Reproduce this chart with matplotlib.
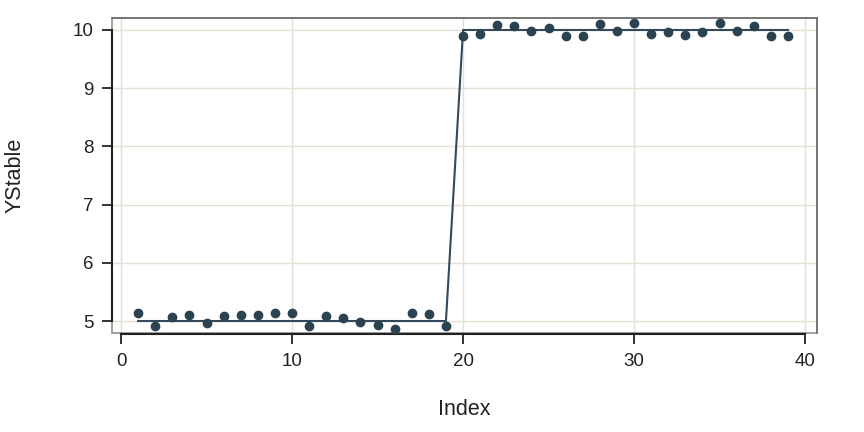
import matplotlib
matplotlib.use("Agg")
import matplotlib.pyplot as plt
from matplotlib.patches import Rectangle

index = list(range(1, 40))
ystable = [5.14, 4.91, 5.07, 5.10, 4.96, 5.09, 5.10, 5.10, 5.14, 5.13,
           4.91, 5.09, 5.06, 4.99, 4.93, 4.87, 5.13, 5.12, 4.91,
           9.90, 9.93, 10.08, 10.06, 9.99, 10.03, 9.90, 9.90, 10.11, 9.98,
           10.12, 9.93, 9.96, 9.91, 9.97, 10.12, 9.99, 10.06, 9.90, 9.90]
fitted = [5.0] * 19 + [10.0] * 20
xticks = [0, 10, 20, 30, 40]
yticks = [5, 6, 7, 8, 9, 10]

plt.rcParams['font.family'] = ['Liberation Sans', 'DejaVu Sans']
col = '#2b4350'

fig = plt.figure(figsize=(8.64, 4.32), dpi=100)
ax = fig.add_axes([112/864, 1-333/432, (817-112)/864, (333-18)/432])

ax.set_xlim(-0.53, 40.7)
ax.set_ylim(4.794, 10.206)
ax.set_xticks(xticks)
ax.set_yticks(yticks)
ax.grid(True, color='#e4e0d4', linewidth=1.0)
ax.set_axisbelow(True)

ax.plot(index, fitted, color='#34495a', linewidth=1.5, zorder=3)
ax.plot(index, ystable, 'o', color=col, markersize=6, zorder=4)

# gray frame
for s in ['top', 'right']:
    ax.spines[s].set_color('#707070')
    ax.spines[s].set_linewidth(1.2)
ax.add_patch(Rectangle((0, 0), 1, 1, transform=ax.transAxes, fill=False,
                       edgecolor='#909090', linewidth=1.2, zorder=1, clip_on=False))
ax.spines['left'].set_bounds(5, 10)
ax.spines['bottom'].set_bounds(0, 40)
ax.spines['left'].set_color('#222222')
ax.spines['bottom'].set_color('#222222')
ax.spines['left'].set_linewidth(1.5)
ax.spines['bottom'].set_linewidth(1.5)
ax.spines['bottom'].set_position(('outward', 1))

ax.tick_params(axis='both', direction='out', length=7.5, width=1.3,
               color='#222222', labelsize=13.5, labelcolor='#222222', pad=6)
ax.set_xlabel('Index', fontsize=15.5, color='#222222', labelpad=21)
ax.set_ylabel('YStable', fontsize=15.5, color='#222222', labelpad=34)

fig.savefig('out.png', dpi=100)
